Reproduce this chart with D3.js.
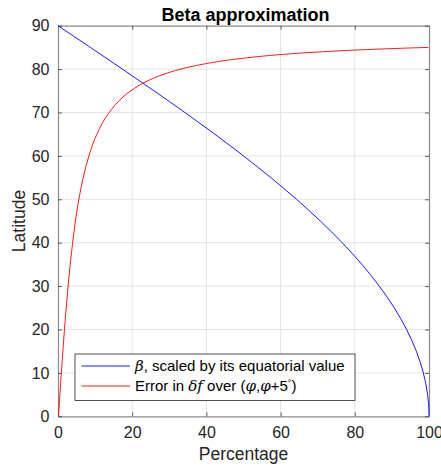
<!DOCTYPE html>
<html><head><meta charset="utf-8">
<script src="https://cdn.jsdelivr.net/npm/d3@7"></script>
<style>
html,body{margin:0;padding:0;background:#fff;}
svg{display:block;font-family:"Liberation Sans",Arial,Helvetica,sans-serif;}
</style></head>
<body>
<svg id="chart" width="441" height="468"></svg>
<script>
// Latitude (degrees) for the beta curve and its percentage (scaled by equatorial value)
const betaLat = [0, 1, 2, 3, 5, 7.5, 10, 15, 20, 25, 30, 35, 40, 45, 50, 55, 60, 65, 70, 75, 80, 85, 90];
const betaPct = [100, 99.985, 99.94, 99.863, 99.62, 99.144, 98.48, 96.59, 93.97, 90.63, 86.60, 81.92, 76.60, 70.71, 64.28, 57.36, 50.00, 42.26, 34.20, 25.88, 17.36, 8.72, 0];
// Latitude (degrees) for the error curve and its percentage error
const errLat = [0, 5, 10, 15, 20, 25, 30, 35, 40, 45, 50, 55, 60, 65, 70, 72.5, 75, 77.5, 78.75, 80, 81, 82, 82.5, 83, 83.5, 84, 84.5, 84.75, 85];
const errPct = [0.13, 0.51, 0.90, 1.31, 1.74, 2.21, 2.72, 3.29, 3.94, 4.70, 5.62, 6.79, 8.32, 10.47, 13.78, 16.22, 19.62, 24.68, 28.29, 33.08, 38.23, 45.25, 49.81, 55.38, 62.33, 71.28, 83.19, 90.78, 99.87];
const xTicks = [0, 20, 40, 60, 80, 100];
const yTicks = [0, 10, 20, 30, 40, 50, 60, 70, 80, 90];

const svg = d3.select("#chart");
const L = 58, R = 429, T = 25.7, B = 416.3;
const x = d3.scaleLinear().domain([0, 100]).range([L, R]);
const y = d3.scaleLinear().domain([0, 90]).range([B, T]);
const FONT = "'Liberation Sans',Arial,Helvetica,sans-serif";

// grid
const g = svg.append("g");
g.selectAll(".gx").data(xTicks.slice(1, -1)).enter().append("line")
  .attr("x1", d => x(d)).attr("x2", d => x(d)).attr("y1", T).attr("y2", B)
  .attr("stroke", "#e3e3e3").attr("stroke-width", 1);
g.selectAll(".gy").data(yTicks.slice(1, -1)).enter().append("line")
  .attr("y1", d => y(d)).attr("y2", d => y(d)).attr("x1", L).attr("x2", R)
  .attr("stroke", "#e3e3e3").attr("stroke-width", 1);

// axes
const axB = svg.append("g").attr("transform", `translate(0,${B})`)
  .call(d3.axisBottom(x).tickValues(xTicks).tickSizeInner(-4).tickSizeOuter(0).tickPadding(10));
const axT = svg.append("g").attr("transform", `translate(0,${T})`)
  .call(d3.axisTop(x).tickValues(xTicks).tickSizeInner(-4).tickSizeOuter(0).tickFormat(""));
const axL = svg.append("g").attr("transform", `translate(${L},0)`)
  .call(d3.axisLeft(y).tickValues(yTicks).tickSizeInner(-4).tickSizeOuter(0).tickPadding(8.5));
const axR = svg.append("g").attr("transform", `translate(${R},0)`)
  .call(d3.axisRight(y).tickValues(yTicks).tickSizeInner(-4).tickSizeOuter(0).tickFormat(""));
[axB, axT, axL, axR].forEach(a => {
  a.select(".domain").attr("stroke", "#8a8a8a").attr("stroke-width", 1.2);
  a.selectAll(".tick line").attr("stroke", "#3a3a3a").attr("stroke-width", 0.8);
  a.selectAll(".tick text").attr("fill", "#262626").style("font-size", "16px")
   .style("font-family", FONT);
});

// lines
const lineBeta = d3.line().x((d, i) => x(betaPct[i])).y(d => y(d)).curve(d3.curveMonotoneY);
const lineErr = d3.line().x((d, i) => x(errPct[i])).y(d => y(d)).curve(d3.curveMonotoneY);
svg.append("path").datum(betaLat).attr("d", lineBeta).attr("fill", "none")
  .attr("stroke", "#0000ff").attr("stroke-width", 0.9);
svg.append("path").datum(errLat).attr("d", lineErr).attr("fill", "none")
  .attr("stroke", "#ff0000").attr("stroke-width", 0.9);

// title and labels
svg.append("text").attr("x", (L + R) / 2 + 2).attr("y", 20.5).attr("text-anchor", "middle")
  .style("font-weight", "bold").style("font-size", "18px").attr("fill", "#000").text("Beta approximation");
svg.append("text").attr("x", (L + R) / 2).attr("y", 460).attr("text-anchor", "middle")
  .style("font-size", "17.5px").attr("fill", "#262626").text("Percentage");
svg.append("text").attr("transform", `translate(25,${(T + B) / 2}) rotate(-90)`).attr("text-anchor", "middle")
  .style("font-size", "17.5px").attr("fill", "#262626").text("Latitude");

// legend
const lg = svg.append("g");
lg.append("rect").attr("x", 75).attr("y", 354).attr("width", 280).attr("height", 46.5)
  .attr("fill", "#fff").attr("stroke", "#262626").attr("stroke-width", 0.8);
lg.append("line").attr("x1", 81.5).attr("x2", 130).attr("y1", 366).attr("y2", 366)
  .attr("stroke", "#0000ff").attr("stroke-width", 0.9);
lg.append("line").attr("x1", 81.5).attr("x2", 130).attr("y1", 386).attr("y2", 386)
  .attr("stroke", "#ff0000").attr("stroke-width", 0.9);
const t1 = lg.append("text").attr("x", 135).attr("y", 371).style("font-size", "15px").attr("fill", "#000");
t1.append("tspan").style("font-style", "italic").style("font-family", "'DejaVu Serif',serif").text("β");
t1.append("tspan").text(", scaled by its equatorial value");
const t2 = lg.append("text").attr("x", 135).attr("y", 391).style("font-size", "15px").attr("fill", "#000");
t2.append("tspan").text("Error in ");
t2.append("tspan").style("font-style", "italic").style("font-family", "'DejaVu Serif',serif").text("δf");
t2.append("tspan").text(" over (");
t2.append("tspan").style("font-style", "italic").style("font-family", "'DejaVu Serif',serif").text("φ");
t2.append("tspan").text(",");
t2.append("tspan").style("font-style", "italic").style("font-family", "'DejaVu Serif',serif").text("φ");
t2.append("tspan").text("+5");
t2.append("tspan").attr("dy", -5).style("font-size", "9px").text("°");
t2.append("tspan").attr("dy", 5).text(")");
</script>
</body></html>
